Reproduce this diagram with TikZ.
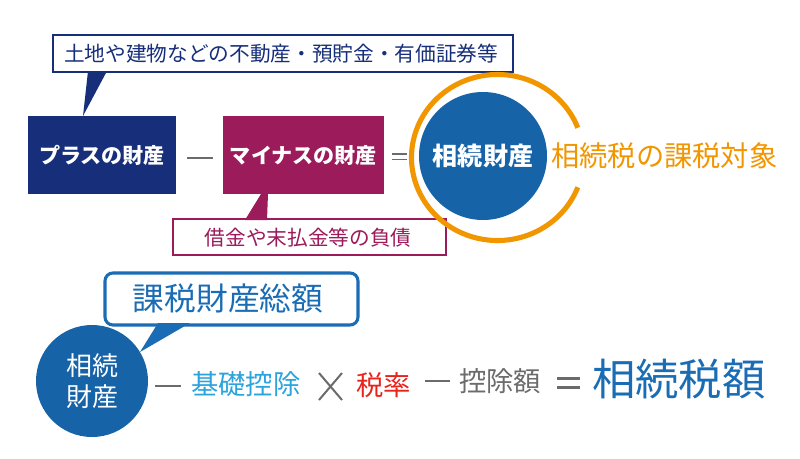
\documentclass[tikz,border=0pt]{standalone}
\usepackage{fontspec}
\usetikzlibrary{calc}
\newfontfamily\jp{Noto Sans CJK JP}
\definecolor{navy}{HTML}{172F7B}
\definecolor{magen}{HTML}{9C1B5B}
\definecolor{cblue}{HTML}{1663A8}
\definecolor{orng}{HTML}{F29600}
\definecolor{lblue}{HTML}{2BA4DD}
\definecolor{rred}{HTML}{E8231C}
\definecolor{gry}{HTML}{6B6B6B}
\definecolor{kblue}{HTML}{1A6CB5}
\tikzset{
  txt/.style={inner sep=0pt, font=\jp},
  boxnode/.style={rectangle, inner sep=0pt, text=white, font=\jp\bfseries\fontsize{15.8}{18}\selectfont},
  calloutbox/.style={rectangle, fill=white, inner sep=0pt, line width=1.5pt},
  opline/.style={gry, line width=2pt},
}
\begin{document}
\begin{tikzpicture}[x=0.75pt,y=-0.75pt]
\useasboundingbox[fill=white] (0,0) rectangle (800,458);

% ---- top row ----
\node[boxnode, fill=navy, minimum width=148*0.75pt, minimum height=78*0.75pt] (plus) at (102,155) {プラスの財産};
\node[boxnode, fill=magen, minimum width=161*0.75pt, minimum height=78*0.75pt] (minus) at (303.5,155) {マイナスの財産};

% top callout
\node[calloutbox, draw=navy, minimum width=460*0.75pt, minimum height=37*0.75pt] (assets) at (283,53.5) {};
\node[txt, text=navy, font=\jp\fontsize{15.5}{18}\selectfont, anchor=west] (assetstxt) at (64,54) {土地や建物などの不動産・預貯金・有価証券等};
\coordinate (t1a) at (88,71);
\coordinate (t1b) at (107,71);
\coordinate (t1c) at (83,116);
\fill[navy] (t1a) -- (t1b) -- (t1c) -- cycle;

% lower callout for debts
\node[calloutbox, draw=magen, minimum width=273*0.75pt, minimum height=36*0.75pt] (debts) at (309.5,237) {};
\node[txt, text=magen, font=\jp\fontsize{15.5}{18}\selectfont] (debtstxt) at (308,237.5) {借金や末払金等の負債};
\coordinate (t2a) at (261,194);
\coordinate (t2b) at (268,194);
\coordinate (t2c) at (267,220);
\coordinate (t2d) at (245,220);
\fill[magen] (t2a) -- (t2b) -- (t2c) -- (t2d) -- cycle;

% minus and equals
\coordinate (m1a) at (187,158);
\coordinate (m1b) at (213,158);
\draw[gry, line width=1.3pt] (m1a) -- (m1b);
\coordinate (e1a) at (392,154);
\coordinate (e1b) at (407,154);
\coordinate (e1c) at (392,159.5);
\coordinate (e1d) at (407,159.5);
\draw[gry, line width=1.1pt] (e1a) -- (e1b) (e1c) -- (e1d);

% circle and ring
\node[circle, fill=cblue, minimum size=128*0.75pt, inner sep=0pt, text=white, font=\jp\bfseries\fontsize{18.8}{20}\selectfont] (estate) at (483,156) {相続財産};
\coordinate (ringc) at (497.5,157.5);
\draw[orng, line width=3.8pt] ($(ringc)+(21:86 and 83)$) arc[start angle=21, end angle=339, x radius=86, y radius=83];
\node[txt, text=orng, font=\jp\fontsize{21.2}{24}\selectfont, anchor=west] (target) at (551,156) {相続税の課税対象};

% ---- bottom row ----
\node[rectangle, rounded corners=6pt, draw=kblue, line width=2.3pt, fill=white, minimum width=253*0.75pt, minimum height=52*0.75pt] (total) at (231.5,299) {};
\node[txt, text=kblue, font=\jp\fontsize{23.8}{26}\selectfont] (totaltxt) at (228,298) {課税財産総額};
\node[circle, fill=cblue, minimum size=112*0.75pt, inner sep=0pt, text=white, align=center, font=\jp\fontsize{19.5}{23.5}\selectfont] (estate2) at (92,381) {相続\\財産};
\coordinate (t3a) at (158,323);
\coordinate (t3b) at (190,323);
\coordinate (t3c) at (140,352);
\fill[kblue] (t3a) -- (t3b) -- (t3c) -- cycle;

\coordinate (m2a) at (155,386);
\coordinate (m2b) at (181,386);
\draw[opline] (m2a) -- (m2b);
\node[txt, text=lblue, font=\jp\fontsize{20.5}{24}\selectfont, anchor=west] (basic) at (191,384.5) {基礎控除};
\coordinate (x1) at (319,373);
\coordinate (x2) at (342,400);
\coordinate (x3) at (342,373);
\coordinate (x4) at (319,400);
\draw[gry, line width=1.5pt] (x1) -- (x2) (x3) -- (x4);
\node[txt, text=rred, font=\jp\fontsize{20.5}{24}\selectfont, anchor=west] (rate) at (356,385.5) {税率};
\coordinate (m3a) at (425,381);
\coordinate (m3b) at (450,381);
\draw[opline] (m3a) -- (m3b);
\node[txt, text=gry, font=\jp\fontsize{20.5}{24}\selectfont, anchor=west] (deduct) at (459,381.5) {控除額};
\coordinate (e2a) at (557,378.5);
\coordinate (e2b) at (580,378.5);
\coordinate (e2c) at (557,387.5);
\coordinate (e2d) at (580,387.5);
\draw[gry, line width=2.4pt] (e2a) -- (e2b) (e2c) -- (e2d);
\node[txt, text=kblue, font=\jp\fontsize{32.5}{36}\selectfont, anchor=west] (taxamt) at (592,379.5) {相続税額};
\end{tikzpicture}
\end{document}
